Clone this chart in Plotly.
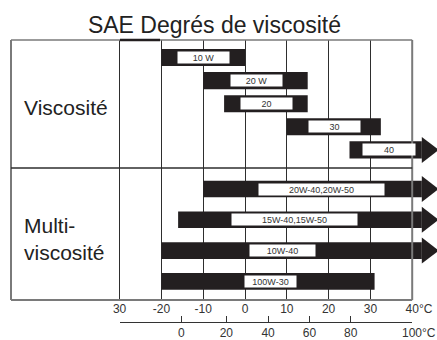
import plotly.graph_objects as go

# ── data ────────────────────────────────────────────────────────────────────
mono_grades = ['10 W', '20 W', '20', '30', '40']
mono_lo = [-20, -10, -5, 10, 25]
mono_hi = [0, 15, 15, 32.5, None]          # None -> open ended (arrow)
mono_label_at = [-10, 2.8, 5.1, 21.4, 34.4]

multi_grades = ['20W-40,20W-50', '15W-40,15W-50', '10W-40', '100W-30']
multi_lo = [-10, -16, -20, -20]
multi_hi = [None, None, None, 31]
multi_label_at = [18.3, 11.8, 9.0, 6.1]

c_ticks = [-30, -20, -10, 0, 10, 20, 30, 40]
c_text = ['30', '-20', '-10', '0', '10', '20', '30', '40°C']
f_pos = [-30, -15.3, -4.5, 5.5, 15.4, 25.3, 40]
f_text = ['', '0', '20', '40', '60', '80', '100°C']

# ── style ───────────────────────────────────────────────────────────────────
W, H = 437, 340
TOP, BOTTOM = 40, 340
PX_PER_C = 4.18
ZERO_PX = 245
ARROW_BASE = 42.3
HEAD = 22.5
BLACK = '#231f20'
GRID = '#2e2e2e'
FRAME = '#7a7a7a'
FONT = 'Liberation Sans, Arial, sans-serif'

mono_box_w = [51, 51, 51, 51, 52]
multi_box_w = [125, 125, 65, 51]


def py(y):
    return (BOTTOM - y) / (BOTTOM - TOP)


def pxp(x):
    return x / W


x_range = [-ZERO_PX / PX_PER_C, (W - ZERO_PX) / PX_PER_C]
split = py(168)

fig = go.Figure()


def add_section(grades, lo, hi, label_at, box_w, yax, bar_w):
    rows = list(range(len(grades)))
    ends = [h if h is not None else ARROW_BASE for h in hi]
    fig.add_trace(go.Bar(
        y=rows, x=[e - s for s, e in zip(lo, ends)], base=lo,
        orientation='h', width=bar_w, marker=dict(color=BLACK, line=dict(width=0)),
        yaxis=yax, xaxis='x', showlegend=False, hoverinfo='skip',
    ))
    open_r = [r for r, h in zip(rows, hi) if h is None]
    fig.add_trace(go.Scatter(
        y=open_r, x=[ARROW_BASE + HEAD / 4 / PX_PER_C] * len(open_r),
        mode='markers', marker=dict(symbol='triangle-right', size=HEAD, color=BLACK,
                                    line=dict(width=0)),
        yaxis=yax, xaxis='x', showlegend=False, hoverinfo='skip',
    ))
    for r, g, xl, bw in zip(rows, grades, label_at, box_w):
        fig.add_annotation(
            x=xl, y=r, xref='x', yref=yax, text=g, showarrow=False,
            width=bw, height=11, bgcolor='white', borderpad=0,
            font=dict(size=9, color='#333', family=FONT),
        )


add_section(mono_grades, mono_lo, mono_hi, mono_label_at, mono_box_w, 'y2', 0.74)
add_section(multi_grades, multi_lo, multi_hi, multi_label_at, multi_box_w, 'y', 0.54)

# dummy trace so the second (bottom) scale gets drawn
fig.add_trace(go.Scatter(x=[None], y=[None], xaxis='x2', yaxis='y3',
                         showlegend=False, hoverinfo='skip'))

ghost = '<span style="color:rgba(0,0,0,0)">°C</span>'
c40 = [ghost + t if t.endswith('°C') else t for t in c_text]
f100 = [ghost + t if t.endswith('°C') else t for t in f_text]

hidden_y = dict(showgrid=False, showticklabels=False, zeroline=False, showline=False,
                fixedrange=True, automargin=False)

fig.update_layout(
    width=W, height=H,
    margin=dict(l=0, r=0, t=TOP, b=H - BOTTOM, autoexpand=False),
    plot_bgcolor='white', paper_bgcolor='white',
    font=dict(family=FONT, color='#333'),
    title=dict(text='SAE Degrés de viscosité', x=214.5 / W, xanchor='center',
               y=1 - 25 / H, yanchor='middle', automargin=False,
               font=dict(size=23, color='#222', family=FONT)),
    xaxis=dict(range=x_range, anchor='y', tickvals=c_ticks, ticktext=c40,
               showgrid=True, gridcolor=GRID, gridwidth=1, zeroline=False,
               showline=False, ticks='', tickfont=dict(size=12, color='#333'),
               fixedrange=True, automargin=False),
    xaxis2=dict(range=[f_pos[0], f_pos[-1]], domain=[pxp(120), pxp(412)],
                anchor='y3', side='bottom',
                tickvals=f_pos, ticktext=f100, showgrid=False, zeroline=False,
                showline=True, linecolor='#333', linewidth=1,
                ticks='inside', ticklen=6, tickcolor='#333', tickwidth=1,
                tickfont=dict(size=12, color='#333'), fixedrange=True,
                automargin=False),
    yaxis=dict(domain=[py(300), split], anchor='x',
               range=[(300 - 189) / 30.8, (168 - 189) / 30.8], **hidden_y),
    yaxis2=dict(domain=[split, 1], anchor='x',
                range=[(168 - 57.5) / 23.1, (40 - 57.5) / 23.1], **hidden_y),
    yaxis3=dict(domain=[py(322), py(318)], anchor='x2', range=[0, 1], **hidden_y),
)

# frame
left, right = pxp(11), pxp(ZERO_PX + 40 * PX_PER_C)
for x0, y0, x1, y1, col, wd in [
    (left, py(300), left, 1, FRAME, 2),
    (right, py(300), right, 1, FRAME, 2),
    (left, py(300), right, py(300), FRAME, 2),
    (left, 1, right, 1, FRAME, 1.5),
    (left, split, right, split, GRID, 1.5),
    (pxp(120), 1, pxp(160), 1, BLACK, 2.5),
]:
    fig.add_shape(type='line', xref='paper', yref='paper', x0=x0, y0=y0, x1=x1, y1=y1,
                  line=dict(color=col, width=wd))

fig.add_annotation(text='Viscosité', xref='paper', yref='y2 domain', x=pxp(22), y=0.5,
                   yshift=-3, xanchor='left', yanchor='middle', showarrow=False,
                   font=dict(size=21, color='#222', family=FONT))
fig.add_annotation(text='Multi-<br>viscosité', xref='paper', yref='y domain', x=pxp(22),
                   y=0.5, yshift=-5, xanchor='left', yanchor='middle', align='left',
                   showarrow=False, font=dict(size=21, color='#222', family=FONT))

fig.write_html('out.html', config={'displayModeBar': False},
               post_script="document.body.style.margin='0';")
